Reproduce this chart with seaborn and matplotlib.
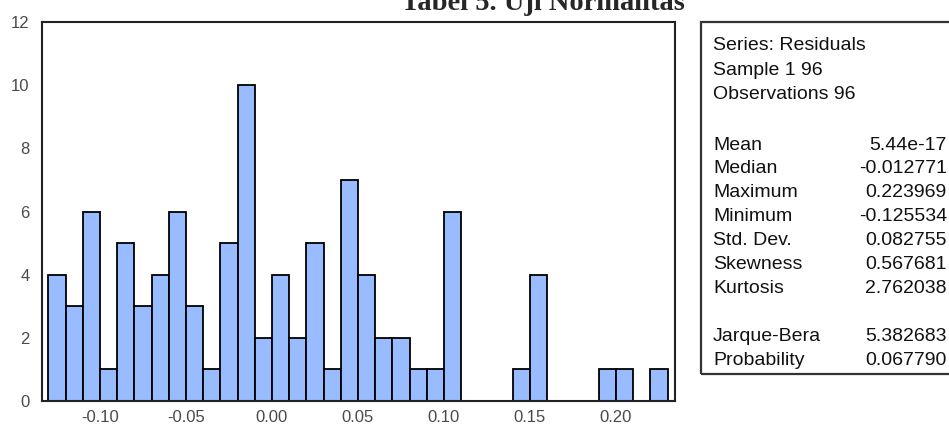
import numpy as np
import pandas as pd
import matplotlib
matplotlib.use("Agg")
import matplotlib.pyplot as plt
import seaborn as sns
from matplotlib.patches import Rectangle
from matplotlib.ticker import MultipleLocator

# histogram bins (left edges, width 0.01) and counts
bin_lefts = [-0.13, -0.12, -0.11, -0.10, -0.09, -0.08, -0.07, -0.06, -0.05, -0.04,
             -0.03, -0.02, -0.01, 0.00, 0.01, 0.02, 0.03, 0.04, 0.05, 0.06,
             0.07, 0.08, 0.09, 0.10, 0.11, 0.12, 0.13, 0.14, 0.15, 0.16,
             0.17, 0.18, 0.19, 0.20, 0.21, 0.22]
counts = [4, 3, 6, 1, 5, 3, 4, 6, 3, 1,
          5, 10, 2, 4, 2, 5, 1, 7, 4, 2,
          2, 1, 1, 6, 0, 0, 0, 1, 4, 0,
          0, 0, 1, 1, 0, 1]
bin_width = 0.01

x_ticks = [-0.10, -0.05, 0.00, 0.05, 0.10, 0.15, 0.20]
y_ticks = [0, 2, 4, 6, 8, 10, 12]

stats_head = ["Series: Residuals", "Sample 1 96", "Observations 96"]
stats_names = ["Mean", "Median", "Maximum", "Minimum", "Std. Dev.", "Skewness", "Kurtosis"]
stats_values = ["5.44e-17", "-0.012771", "0.223969", "-0.125534", "0.082755", "0.567681", "2.762038"]
test_names = ["Jarque-Bera", "Probability"]
test_values = ["5.382683", "0.067790"]

title = "Tabel 5. Uji Normalitas"

W, H = 949, 429

sns.set_style("white")
plt.rcParams["font.family"] = ["Liberation Sans", "DejaVu Sans"]

df = pd.DataFrame({"x": np.array(bin_lefts) + bin_width / 2, "n": counts})
edges = list(bin_lefts) + [bin_lefts[-1] + bin_width]

fig = plt.figure(figsize=(W / 100, H / 100), dpi=100)
ax = fig.add_axes([42 / W, 1 - 401 / H, (675 - 42) / W, (401 - 22) / H])

sns.histplot(data=df, x="x", weights="n", bins=edges, ax=ax,
             color="#99bbff", alpha=1, edgecolor="black", linewidth=1.3)

ax.set_xlim(-0.1337, 0.2343)
ax.set_ylim(0, 12)
ax.set_xticks(x_ticks)
ax.set_xticklabels([f"{t:.2f}" for t in x_ticks])
ax.xaxis.set_minor_locator(MultipleLocator(0.01))
ax.set_yticks(y_ticks)
ax.set_xlabel("")
ax.set_ylabel("")
ax.tick_params(axis="both", which="major", direction="out", length=5, width=1.2,
               color="black", labelsize=12, labelcolor="#4a4a4a")
ax.tick_params(axis="x", which="major", pad=1.5)
ax.tick_params(axis="y", which="major", pad=4)
ax.tick_params(axis="x", which="minor", direction="out", length=3, width=1.2, color="black")
for side in ["left", "bottom", "top", "right"]:
    ax.spines[side].set_visible(True)
    ax.spines[side].set_color("#222222")
    ax.spines[side].set_linewidth(1.5)

# title, cut at the top like the reference
fig.text(543 / W, 1 - 10 / H, title, ha="center", va="baseline",
         family="Liberation Serif", fontweight="bold", fontsize=20.5)

# statistics box
fig.add_artist(Rectangle((701 / W, 1 - 374 / H), 1.02 - 701 / W, (374 - 22) / H,
                         transform=fig.transFigure, fill=False,
                         edgecolor="#333333", linewidth=1.6, clip_on=False))

lab_x = 713 / W
val_x = 947 / W
fs = 14
head_rows = [43, 68, 92]
for txt, yy in zip(stats_head, head_rows):
    fig.text(lab_x, 1 - (yy + 7) / H, txt, ha="left", va="baseline", fontsize=fs, color="#111111")
stat_rows = [143, 166, 190, 214, 238, 262, 286]
for name, val, yy in zip(stats_names, stats_values, stat_rows):
    fig.text(lab_x, 1 - (yy + 7) / H, name, ha="left", va="baseline", fontsize=fs, color="#111111")
    fig.text(val_x, 1 - (yy + 7) / H, val, ha="right", va="baseline", fontsize=fs, color="#111111")
test_rows = [334, 358]
for name, val, yy in zip(test_names, test_values, test_rows):
    fig.text(lab_x, 1 - (yy + 7) / H, name, ha="left", va="baseline", fontsize=fs, color="#111111")
    fig.text(val_x, 1 - (yy + 7) / H, val, ha="right", va="baseline", fontsize=fs, color="#111111")

fig.savefig("out.png", dpi=100)
